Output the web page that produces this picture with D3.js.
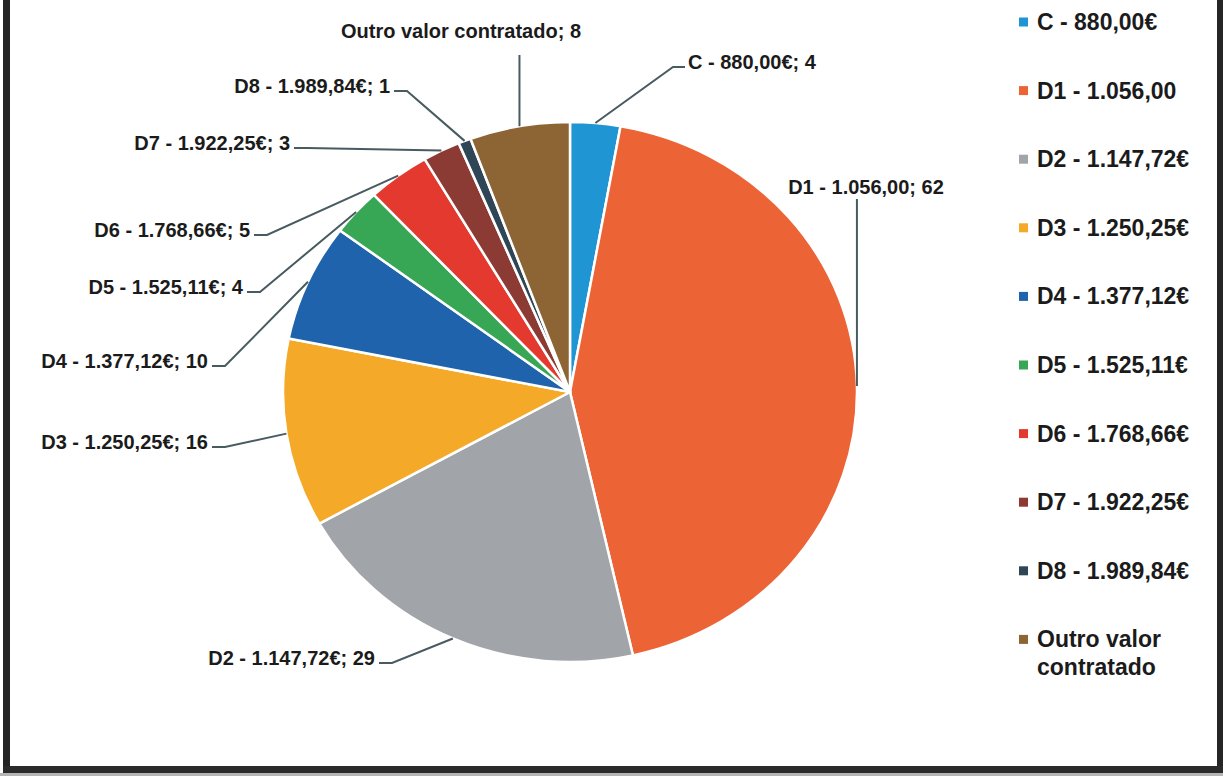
<!DOCTYPE html>
<html lang="pt">
<head>
<meta charset="utf-8">
<title>Distribuição por valor contratado</title>
<script src="https://cdn.jsdelivr.net/npm/d3@7"></script>
<style>
  html, body { margin: 0; padding: 0; background: #ffffff; }
  svg { display: block; }
  text { font-family: "Liberation Sans", Arial, sans-serif; font-weight: bold; fill: #1b1b1b; }
</style>
</head>
<body>
<svg id="chart" width="1223" height="776"></svg>
<script>
// Salary bands and how many contracts fall in each
const categories = [
  "C - 880,00€",
  "D1 - 1.056,00",
  "D2 - 1.147,72€",
  "D3 - 1.250,25€",
  "D4 - 1.377,12€",
  "D5 - 1.525,11€",
  "D6 - 1.768,66€",
  "D7 - 1.922,25€",
  "D8 - 1.989,84€",
  "Outro valor contratado"
];
const counts = [4, 62, 29, 16, 10, 4, 5, 3, 1, 8];
const sliceColors = [
  "#1f95d3", "#ec6436", "#a1a5a9", "#f4aa28", "#1f63ad",
  "#37a655", "#e4392f", "#8c3a34", "#2f4657", "#8d6434"
];

// Placement of the data labels around the pie (text anchor point + leader style)
const labelLayout = [
  { x: 688, y: 69,  anchor: "start",  leader: "elbow" },
  { x: 866, y: 194, anchor: "middle", leader: "vertical", top: 199 },
  { x: 375, y: 665, anchor: "end",    leader: "elbow" },
  { x: 208, y: 449, anchor: "end",    leader: "elbow" },
  { x: 208, y: 368, anchor: "end",    leader: "elbow" },
  { x: 243, y: 294, anchor: "end",    leader: "elbow" },
  { x: 250, y: 237, anchor: "end",    leader: "elbow" },
  { x: 290, y: 150, anchor: "end",    leader: "elbow" },
  { x: 390, y: 93,  anchor: "end",    leader: "elbow" },
  { x: 461, y: 38,  anchor: "middle", leader: "vertical", top: 55 }
];

const svg = d3.select("#chart");
const W = 1223, H = 776;

// Pie geometry (slightly wider than tall)
const cx = 570, cy = 392, rx = 287, ry = 270;

const data = categories.map((c, i) => ({ name: c, value: counts[i], color: sliceColors[i], i }));

const pie = d3.pie().value(d => d.value).sort(null);
const arcs = pie(data);
const arc = d3.arc().innerRadius(0).outerRadius(rx);

const pieG = svg.append("g")
  .attr("transform", `translate(${cx},${cy}) scale(1,${ry / rx})`);

pieG.selectAll("path.slice")
  .data(arcs)
  .join("path")
  .attr("class", "slice")
  .attr("d", arc)
  .attr("fill", d => d.data.color)
  .attr("stroke", "#ffffff")
  .attr("stroke-width", 2.5)
  .attr("stroke-linejoin", "round")
  .attr("vector-effect", "non-scaling-stroke");

// Point on the pie's rim at the middle of a slice
function rimPoint(a) {
  const m = (a.startAngle + a.endAngle) / 2;
  return [cx + rx * Math.sin(m), cy - ry * Math.cos(m)];
}

const labelG = svg.append("g");
const lineGen = d3.line();

arcs.forEach((a, i) => {
  const L = labelLayout[i];
  const label = `${a.data.name}; ${a.data.value}`;
  labelG.append("text")
    .attr("x", L.x)
    .attr("y", L.y)
    .attr("text-anchor", L.anchor)
    .attr("font-size", 20)
    .text(label);

  const [px, py] = rimPoint(a);
  let pts;
  if (L.leader === "vertical") {
    pts = [[px, L.top], [px, py]];
  } else {
    const ly = L.y - 2;
    if (L.anchor === "end") {
      pts = [[L.x + 4, ly], [L.x + 17, ly], [px, py]];
    } else {
      pts = [[L.x - 3, ly], [L.x - 15, ly], [px, py]];
    }
  }
  labelG.append("path")
    .attr("d", lineGen(pts))
    .attr("fill", "none")
    .attr("stroke", "#485b60")
    .attr("stroke-width", 2);
});

// Legend on the right
const legend = svg.append("g").attr("transform", "translate(1019,0)");
const legendStep = 68.6, legendTop = 22;
const maxLegendWidth = 170;

data.forEach((d, i) => {
  const yc = legendTop + i * legendStep;
  legend.append("rect")
    .attr("x", 0).attr("y", yc - 4.5)
    .attr("width", 9).attr("height", 9)
    .attr("fill", d.color);
  const t = legend.append("text")
    .attr("x", 18).attr("y", yc + 8)
    .attr("font-size", 23);
  // wrap long names onto extra lines
  const words = d.name.split(" ");
  let line = [], tspan = t.append("tspan").attr("x", 18).attr("dy", 0);
  words.forEach(w => {
    line.push(w);
    tspan.text(line.join(" "));
    if (tspan.node().getComputedTextLength() > maxLegendWidth && line.length > 1) {
      line.pop();
      tspan.text(line.join(" "));
      line = [w];
      tspan = t.append("tspan").attr("x", 18).attr("dy", 28).text(w);
    }
  });
});

// Dark frame along the left, right and bottom edges
const frame = svg.append("g");
frame.append("rect").attr("x", 0).attr("y", 773).attr("width", W).attr("height", 3).attr("fill", "#b5b5b5");
frame.append("rect").attr("x", 3).attr("y", 0).attr("width", 7).attr("height", 773).attr("fill", "#242424");
frame.append("rect").attr("x", 1217).attr("y", 0).attr("width", 6).attr("height", 773).attr("fill", "#262626");
frame.append("rect").attr("x", 3).attr("y", 766).attr("width", W - 3).attr("height", 7).attr("fill", "#2b2b2b");
</script>
</body>
</html>
